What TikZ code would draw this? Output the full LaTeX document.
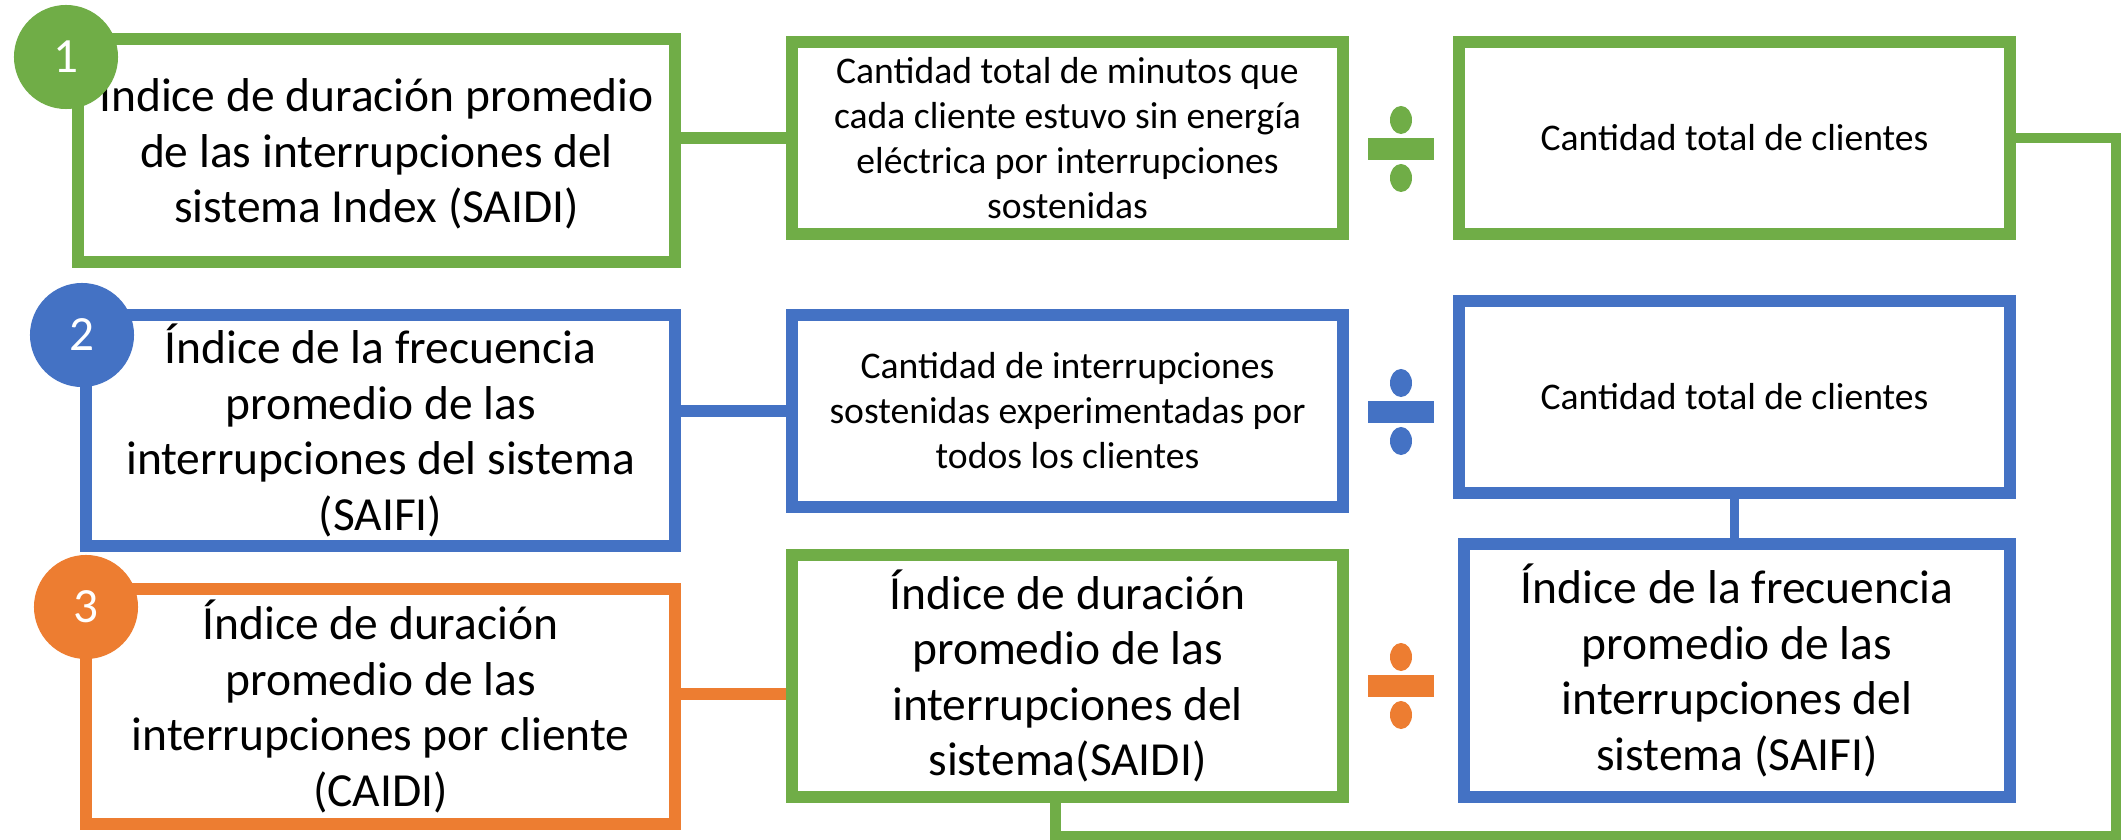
\documentclass[tikz,border=0pt]{standalone}
\usepackage{fontspec}
\setmainfont{Carlito}
\definecolor{okgreen}{HTML}{70AD47}
\definecolor{okblue}{HTML}{4472C4}
\definecolor{okorange}{HTML}{ED7D31}
\newcommand{\divmark}[3]{%
  \fill[#1] (#2-33,#3-11) rectangle (#2+33,#3+11);
  \fill[#1] (#2,#3-29) ellipse [x radius=0.11cm,y radius=0.14cm];
  \fill[#1] (#2,#3+29) ellipse [x radius=0.11cm,y radius=0.14cm];
}
\begin{document}
\begin{tikzpicture}[x=0.01cm,y=-0.01cm,
  box/.style={draw=#1,line width=0.12cm,fill=white,inner sep=0pt,align=center},
  bigtext/.style={font=\fontsize{13.5}{15.8}\selectfont},
  smalltext/.style={font=\fontsize{10.7}{12.8}\selectfont},
  num/.style={circle,fill=#1,inner sep=0pt,minimum size=1.04cm,text=white,font=\fontsize{14}{16}\selectfont},
  link/.style={draw=#1,line width=0.12cm}]
\useasboundingbox (0,0) rectangle (2123,840);
% row 1: SAIDI
\node[box=okgreen,bigtext,minimum width=5.97cm,minimum height=2.23cm] (saidi) at (376.5,150.5) {Índice de duración promedio\\de las interrupciones del\\sistema Index (SAIDI)};
\node[box=okgreen,smalltext,minimum width=5.51cm,minimum height=1.92cm] (minutos) at (1067.5,138) {Cantidad total de minutos que\\cada cliente estuvo sin energía\\eléctrica por interrupciones\\sostenidas};
\node[box=okgreen,smalltext,minimum width=5.51cm,minimum height=1.92cm] (clientesA) at (1734.5,138) {Cantidad total de clientes};
% row 2: SAIFI
\node[box=okblue,bigtext,minimum width=5.89cm,minimum height=2.31cm] (saifi) at (380.5,430.5) {Índice de la frecuencia\\promedio de las\\interrupciones del sistema\\(SAIFI)};
\node[box=okblue,smalltext,minimum width=5.51cm,minimum height=1.92cm] (interrup) at (1067.5,411) {Cantidad de interrupciones\\sostenidas experimentadas por\\todos los clientes};
\node[box=okblue,smalltext,minimum width=5.51cm,minimum height=1.92cm] (clientesB) at (1734.5,397) {Cantidad total de clientes};
% row 3: CAIDI
\node[box=okorange,bigtext,minimum width=5.89cm,minimum height=2.35cm] (caidi) at (380.5,706.5) {Índice de duración\\promedio de las\\interrupciones por cliente\\(CAIDI)};
\node[box=okgreen,bigtext,minimum width=5.51cm,minimum height=2.42cm] (saidiB) at (1067.5,676) {Índice de duración\\promedio de las\\interrupciones del\\sistema(SAIDI)};
\node[box=okblue,bigtext,minimum width=5.46cm,minimum height=2.53cm] (saifiB) at (1737,670.5) {Índice de la frecuencia\\promedio de las\\interrupciones del\\sistema (SAIFI)};
% connectors
\draw[link=okgreen] (minutos.west) -- (minutos.west -| saidi.east);
\draw[link=okblue] (interrup.west) -- (interrup.west -| saifi.east);
\draw[link=okorange] ([yshift=0.12cm]caidi.east) -- ([yshift=0.12cm]caidi.east -| saidiB.west);
\draw[okblue,line width=0.09cm] (clientesB.south) -- (clientesB.south |- saifiB.north);
\coordinate (turn) at (2116,836);
\draw[okgreen,line width=0.1cm] (clientesA.east) -| (turn) -| ([xshift=-0.12cm]saidiB.south);
% division signs
\divmark{okgreen}{1401}{149}
\divmark{okblue}{1401}{412}
\divmark{okorange}{1401}{686}
% numbers
\node[num=okgreen] (n1) at (66,57) {1};
\node[num=okblue] (n2) at (82,335) {2};
\node[num=okorange] (n3) at (86,607) {3};
\end{tikzpicture}
\end{document}
